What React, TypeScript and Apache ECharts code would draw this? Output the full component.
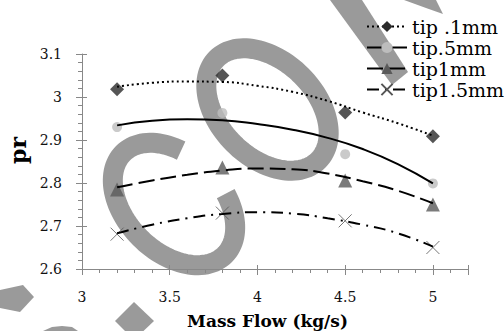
import React, { useEffect, useRef } from "react";
import * as echarts from "echarts";

// Measured points
const massFlow = [3.2, 3.8, 4.5, 5];
const prTip01 = [3.018, 3.05, 2.964, 2.909];
const prTip05 = [2.93, 2.963, 2.867, 2.799];
const prTip1 = [2.785, 2.836, 2.806, 2.75];
const prTip15 = [2.681, 2.73, 2.712, 2.65];

// Trend curves
const trendX = [3.2, 3.4, 3.6, 3.8, 4.0, 4.2, 4.4, 4.6, 4.8, 5.0];
const trendTip01 = [3.024, 3.033, 3.036, 3.035, 3.026, 3.012, 2.991, 2.964, 2.939, 2.91];
const trendTip05 = [2.934, 2.945, 2.948, 2.946, 2.937, 2.924, 2.905, 2.879, 2.844, 2.799];
const trendTip1 = [2.79, 2.806, 2.819, 2.829, 2.834, 2.832, 2.822, 2.804, 2.782, 2.753];
const trendTip15 = [2.683, 2.703, 2.718, 2.728, 2.732, 2.729, 2.718, 2.703, 2.683, 2.652];

const seriesNames = ["tip .1mm", "tip.5mm", "tip1mm", "tip1.5mm"];
const xTitle = "Mass Flow (kg/s)";
const yTitle = "pr";

const FONT = "DejaVu Serif";
const AXIS_GRAY = "#888";
const WM = "#9a9a9a";
const X_SYMBOL = "path://M0,0L10,10M10,0L0,10";

// watermark outline: tilted ellipse arc (decoration only)
function wmEllipse(cx: number, cy: number, fromDeg: number, toDeg: number) {
  const out: number[][] = [];
  for (let d = fromDeg; d <= toDeg + 0.001; d += 3) {
    const t = (d * Math.PI) / 180;
    const ex = 72 * Math.cos(t);
    const ey = 48 * Math.sin(t);
    out.push([cx + 0.7071 * (ex - ey), cy + 0.7071 * (ex + ey)]);
  }
  return out;
}

const styles = [
  { symbol: "diamond", size: 14, item: { color: "#2b2b2b" }, dash: [2, 3] as any },
  { symbol: "circle", size: 10, item: { color: "#bdbdbd" }, dash: "solid" as any },
  { symbol: "triangle", size: 14, item: { color: "#5a5a5a" }, dash: [16, 6] as any },
  {
    symbol: X_SYMBOL,
    size: 13,
    item: { color: "rgba(0,0,0,0)", borderColor: "#555", borderWidth: 1 },
    dash: [12, 6, 2, 6] as any,
  },
];

export default function App() {
  const ref = useRef<HTMLDivElement>(null);
  useEffect(() => {
    if (!ref.current) return;
    const chart = echarts.init(ref.current, null, { renderer: "svg" });
    const pts = [prTip01, prTip05, prTip1, prTip15];
    const trends = [trendTip01, trendTip05, trendTip1, trendTip15];
    const scatterSeries = pts.map((p, i) => ({
      type: "scatter",
      name: seriesNames[i] + " data",
      data: massFlow.map((x, j) => [x, p[j]]),
      symbol: styles[i].symbol,
      symbolSize: styles[i].size,
      itemStyle: styles[i].item,
      z: 2,
      silent: true,
    }));
    const lineSeries = trends.map((t, i) => ({
      type: "line",
      name: seriesNames[i],
      data: trendX.map((x, j) => [x, t[j]]),
      smooth: true,
      symbol: styles[i].symbol,
      symbolSize: styles[i].size,
      showSymbol: false,
      itemStyle: styles[i].item,
      lineStyle: { color: "#000", width: 2, type: styles[i].dash },
      z: 3,
      silent: true,
    }));

    chart.setOption({
      animation: false,
      backgroundColor: "#fff",
      grid: {
        left: 82,
        right: 36,
        top: 54,
        bottom: 62,
        containLabel: false,
        outerBoundsMode: "none",
      },
      legend: {
        orient: "vertical",
        left: 361,
        top: 12,
        itemWidth: 40,
        itemHeight: 14,
        itemGap: 2,
        textStyle: { fontFamily: FONT, fontSize: 19, color: "#000" },
        data: seriesNames,
      },
      xAxis: [
        {
          type: "value",
          min: 3,
          max: 5.2,
          interval: 0.5,
          axisLine: { lineStyle: { color: AXIS_GRAY, width: 1 } },
          axisTick: { show: true, length: 6, lineStyle: { color: AXIS_GRAY } },
          minorTick: { show: true, splitNumber: 5, length: 4, lineStyle: { color: AXIS_GRAY } },
          splitLine: { show: false },
          minorSplitLine: { show: false },
          axisLabel: {
            showMaxLabel: false,
            margin: 21,
            fontFamily: FONT,
            fontSize: 14,
            color: "#111",
          },
          name: xTitle,
          nameLocation: "middle",
          nameGap: 43,
          nameTextStyle: {
            fontFamily: FONT,
            fontSize: 17,
            fontWeight: "bold",
            color: "#000",
            padding: [0, 15, 0, 0],
          },
        },
        {
          type: "value",
          min: 3,
          max: 5.2,
          interval: 0.5,
          position: "top",
          offset: -215,
          axisLine: { show: false },
          axisTick: { show: true, inside: false, length: 4, lineStyle: { color: AXIS_GRAY } },
          axisLabel: { show: false },
          splitLine: { show: false },
        },
      ],
      yAxis: [
        {
          type: "value",
          min: 2.6,
          max: 3.1,
          interval: 0.1,
          axisLine: { show: true, lineStyle: { color: AXIS_GRAY, width: 1 } },
          axisTick: { show: true, length: 6, lineStyle: { color: AXIS_GRAY } },
          minorTick: { show: true, splitNumber: 5, length: 4, lineStyle: { color: AXIS_GRAY } },
          splitLine: { show: false },
          minorSplitLine: { show: false },
          axisLabel: { margin: 20, fontFamily: FONT, fontSize: 14, color: "#111" },
          name: yTitle,
          nameLocation: "middle",
          nameRotate: 90,
          nameGap: 48,
          nameTextStyle: {
            fontFamily: FONT,
            fontSize: 22,
            fontWeight: "bold",
            color: "#000",
            padding: [0, 0, 0, 22],
          },
        },
        {
          type: "value",
          min: 2.6,
          max: 3.1,
          interval: 0.1,
          position: "right",
          offset: -386,
          axisLine: { show: false },
          axisTick: { show: true, inside: false, length: 5, lineStyle: { color: AXIS_GRAY } },
          axisLabel: { show: false },
          splitLine: { show: false },
        },
      ],
      graphic: {
        elements: [
          {
            type: "polygon",
            shape: { points: wmEllipse(267.5, 109.5, 0, 357) },
            style: { fill: "none", stroke: WM, lineWidth: 20 },
            silent: true,
            z: -10,
          },
          {
            type: "polyline",
            shape: { points: wmEllipse(174, 204, -66, 245) },
            style: { fill: "none", stroke: WM, lineWidth: 20, lineCap: "butt" },
            silent: true,
            z: -10,
          },
          {
            type: "polygon",
            shape: { points: [[330, 0], [362, 0], [408, 72], [392, 85]] },
            style: { fill: WM },
            silent: true,
            z: -10,
          },
          {
            type: "polygon",
            shape: { points: [[404, 0], [436, 0], [443, 14], [426, 8]] },
            style: { fill: WM },
            silent: true,
            z: -10,
          },
          {
            type: "polygon",
            shape: { points: [[134, 302], [154, 321], [134, 340], [115, 321]] },
            style: { fill: WM },
            silent: true,
            z: -10,
          },
          {
            type: "polygon",
            shape: { points: [[0, 290], [23, 285], [34, 297], [20, 312], [0, 308]] },
            style: { fill: WM },
            silent: true,
            z: -10,
          },
          {
            type: "polygon",
            shape: { points: [[43, 331], [52, 327], [62, 326], [72, 327], [78, 331]] },
            style: { fill: WM },
            silent: true,
            z: -10,
          },
        ],
      },
      series: [...scatterSeries, ...lineSeries],
    });
    return () => chart.dispose();
  }, []);
  return (
    <div
      ref={ref}
      style={{ position: "fixed", left: 0, top: 0, width: 504, height: 331, background: "#fff" }}
    />
  );
}
